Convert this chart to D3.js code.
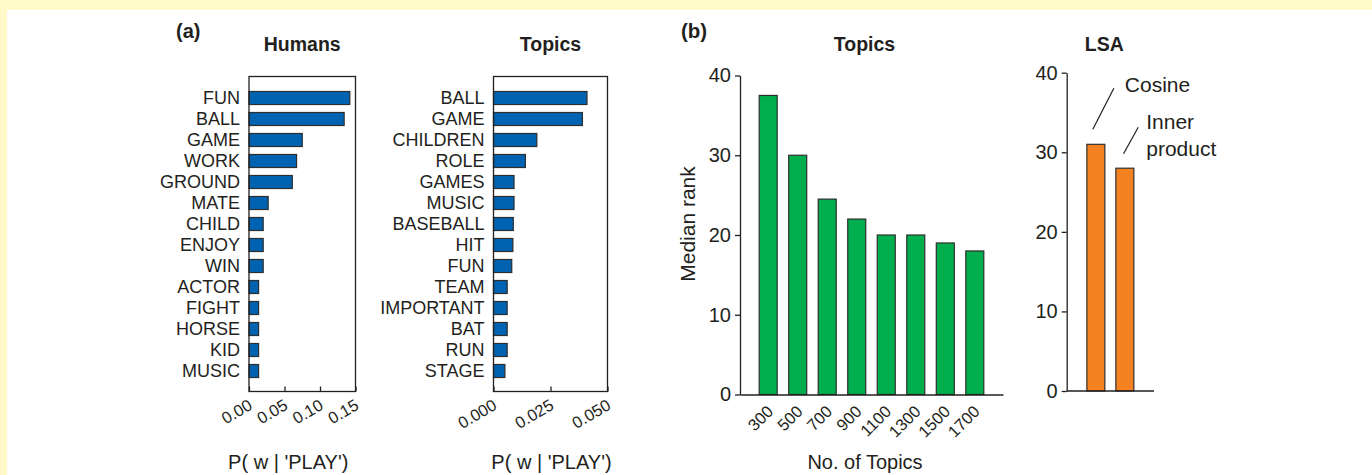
<!DOCTYPE html>
<html>
<head>
  <script src="https://d3js.org/d3.v7.min.js"></script>
  <style>
    body { margin: 0; background: #fffac8; }
    svg text { font-family: "Liberation Sans", Arial, sans-serif; fill: #231f20; }
  </style>
</head>
<body>
  <div id="chart"></div>
  <script>
    // panel (a) - humans
    var humanWords = ["FUN", "BALL", "GAME", "WORK", "GROUND", "MATE", "CHILD", "ENJOY", "WIN", "ACTOR", "FIGHT", "HORSE", "KID", "MUSIC"];
    var humanValues = [0.142, 0.134, 0.075, 0.067, 0.061, 0.027, 0.020, 0.020, 0.020, 0.0135, 0.0135, 0.0135, 0.0135, 0.0135];
    var humanTicks = [0, 0.05, 0.10, 0.15];

    // panel (a) - topics
    var topicWords = ["BALL", "GAME", "CHILDREN", "ROLE", "GAMES", "MUSIC", "BASEBALL", "HIT", "FUN", "TEAM", "IMPORTANT", "BAT", "RUN", "STAGE"];
    var topicValues = [0.041, 0.039, 0.019, 0.014, 0.009, 0.009, 0.0087, 0.0085, 0.008, 0.006, 0.006, 0.006, 0.006, 0.005];
    var topicTicks = [0, 0.025, 0.05];

    // panel (b)
    var topicCounts = ["300", "500", "700", "900", "1100", "1300", "1500", "1700"];
    var medianRanks = [37.5, 30, 24.5, 22, 20, 20, 19, 18];
    var lsaMethods = ["Cosine", "Inner product"];
    var lsaRanks = [31, 28];
    var rankTicks = [0, 10, 20, 30, 40];

    var ink = "#231f20";
    var barStroke = "#2e2e2e";

    var svg = d3.select("#chart")
                .append("svg")
                .attr("width", 1372)
                .attr("height", 475);

    svg.append("rect")
       .attr("x", 7).attr("y", 10)
       .attr("width", 1365).attr("height", 465)
       .attr("fill", "white");

    var boxTop = 76.5, boxBottom = 391.5;

    function drawHPanel(words, values, ticks, fmt, x0, x1, title, labelShift) {
      var x = d3.scaleLinear()
                .domain([ticks[0], ticks[ticks.length - 1]])
                .range([x0, x1]);
      var y = d3.scaleBand()
                .domain(words)
                .range([87.5, 381.5])
                .paddingInner(0.38)
                .paddingOuter(0.19);

      var g = svg.append("g");

      g.selectAll(".bar")
       .data(words)
       .enter()
       .append("rect")
       .attr("class", "bar")
       .attr("x", x(0))
       .attr("y", d => y(d))
       .attr("width", (d, i) => x(values[i]) - x(0))
       .attr("height", y.bandwidth())
       .attr("fill", "#0063b1")
       .attr("stroke", barStroke)
       .attr("stroke-width", 1.2);

      g.append("rect")
       .attr("x", x0).attr("y", boxTop)
       .attr("width", x1 - x0).attr("height", boxBottom - boxTop)
       .attr("fill", "none")
       .attr("stroke", ink)
       .attr("stroke-width", 1.3);

      g.selectAll(".word")
       .data(words)
       .enter()
       .append("text")
       .attr("class", "word")
       .attr("x", x0 - 9)
       .attr("y", d => y(d) + y.bandwidth() / 2)
       .attr("dy", "0.36em")
       .attr("text-anchor", "end")
       .style("font-size", "18px")
       .text(d => d);

      var axis = g.append("g")
                  .attr("transform", `translate(0, ${boxBottom})`)
                  .style("color", ink)
                  .call(d3.axisBottom(x).tickValues(ticks).tickSize(-5).tickSizeOuter(0).tickFormat(fmt));
      axis.select(".domain").remove();
      axis.selectAll("line").attr("stroke-width", 1.3);
      axis.selectAll("text")
          .attr("y", 0)
          .attr("dy", 0)
          .attr("text-anchor", "end")
          .attr("transform", "translate(4, 17) rotate(-30)")
          .style("font-size", "16.5px");

      svg.append("text")
         .attr("x", (x0 + x1) / 2)
         .attr("y", 51)
         .attr("text-anchor", "middle")
         .style("font-size", "19.5px")
         .style("font-weight", "bold")
         .text(title);

      svg.append("text")
         .attr("x", (x0 + x1) / 2 + labelShift)
         .attr("y", 469)
         .attr("text-anchor", "middle")
         .style("font-size", "20px")
         .text("P( w | 'PLAY')");
    }

    drawHPanel(humanWords, humanValues, humanTicks, d3.format(".2f"), 249, 355.5, "Humans", -14);
    drawHPanel(topicWords, topicValues, topicTicks, d3.format(".3f"), 493.5, 607.5, "Topics", 1);

    svg.append("text").attr("x", 176).attr("y", 38)
       .style("font-size", "20px").style("font-weight", "bold").text("(a)");
    svg.append("text").attr("x", 681).attr("y", 38)
       .style("font-size", "20.5px").style("font-weight", "bold").text("(b)");

    // panel (b) - topics median rank
    var xb = d3.scaleBand()
               .domain(topicCounts)
               .range([740, 1003])
               .paddingInner(0.39)
               .paddingOuter(0.65);
    var yb = d3.scaleLinear().domain([0, 40]).range([394.5, 75.5]);

    svg.selectAll(".gbar")
       .data(topicCounts)
       .enter()
       .append("rect")
       .attr("class", "gbar")
       .attr("x", d => xb(d))
       .attr("y", (d, i) => yb(medianRanks[i]))
       .attr("width", xb.bandwidth())
       .attr("height", (d, i) => yb(0) - yb(medianRanks[i]))
       .attr("fill", "#00ae4d")
       .attr("stroke", barStroke)
       .attr("stroke-width", 1.2);

    var ybAxis = svg.append("g")
                    .attr("transform", "translate(740, 0)")
                    .style("color", ink)
                    .call(d3.axisLeft(yb).tickValues(rankTicks).tickSize(5).tickSizeOuter(0).tickPadding(4));
    ybAxis.selectAll("path, line").attr("stroke-width", 1.3);
    ybAxis.selectAll("text").style("font-size", "20px");

    var xbAxis = svg.append("g")
                    .attr("transform", `translate(0, ${yb(0)})`)
                    .style("color", ink)
                    .call(d3.axisBottom(xb).tickSize(0).tickSizeOuter(0));
    xbAxis.select(".domain").attr("stroke-width", 1.3);
    xbAxis.selectAll("text")
          .attr("y", 0)
          .attr("dy", 0)
          .attr("text-anchor", "end")
          .attr("transform", "translate(6, 18) rotate(-45)")
          .style("font-size", "16.5px");

    svg.append("text")
       .attr("x", (740 + 1003) / 2 - 7)
       .attr("y", 51)
       .attr("text-anchor", "middle")
       .style("font-size", "19.5px")
       .style("font-weight", "bold")
       .text("Topics");

    svg.append("text")
       .attr("x", 865)
       .attr("y", 469)
       .attr("text-anchor", "middle")
       .style("font-size", "20px")
       .text("No. of Topics");

    svg.append("text")
       .attr("transform", "translate(695, 224) rotate(-90)")
       .attr("text-anchor", "middle")
       .style("font-size", "21px")
       .text("Median rank");

    // panel (b) - LSA
    var xl = d3.scaleBand()
               .domain(lsaMethods)
               .range([1066.7, 1154])
               .paddingInner(0.38)
               .paddingOuter(0.695);
    var yl = d3.scaleLinear().domain([0, 40]).range([391, 72.7]);

    svg.selectAll(".obar")
       .data(lsaMethods)
       .enter()
       .append("rect")
       .attr("class", "obar")
       .attr("x", d => xl(d))
       .attr("y", (d, i) => yl(lsaRanks[i]))
       .attr("width", xl.bandwidth())
       .attr("height", (d, i) => yl(0) - yl(lsaRanks[i]))
       .attr("fill", "#f58220")
       .attr("stroke", barStroke)
       .attr("stroke-width", 1.2);

    var ylAxis = svg.append("g")
                    .attr("transform", "translate(1066.7, 0)")
                    .style("color", ink)
                    .call(d3.axisLeft(yl).tickValues(rankTicks).tickSize(5).tickSizeOuter(0).tickPadding(4));
    ylAxis.selectAll("path, line").attr("stroke-width", 1.3);
    ylAxis.selectAll("text").style("font-size", "20px");

    svg.append("line")
       .attr("x1", 1066.7).attr("x2", 1154)
       .attr("y1", yl(0)).attr("y2", yl(0))
       .attr("stroke", ink)
       .attr("stroke-width", 1.3);

    svg.append("text")
       .attr("x", (1066.7 + 1154) / 2 - 6)
       .attr("y", 51)
       .attr("text-anchor", "middle")
       .style("font-size", "19.5px")
       .style("font-weight", "bold")
       .text("LSA");

    // leader lines and labels for the LSA bars
    var cx = xl("Cosine") + xl.bandwidth() / 2 - 3, cy = yl(lsaRanks[0]) - 15;
    svg.append("line")
       .attr("x1", cx).attr("y1", cy)
       .attr("x2", cx + 21).attr("y2", cy - 41)
       .attr("stroke", ink).attr("stroke-width", 1.2);
    svg.append("text")
       .attr("x", cx + 32).attr("y", cy - 37.5)
       .style("font-size", "21px")
       .text("Cosine");

    var ix = xl("Inner product") + xl.bandwidth() / 2 - 1.3, iy = yl(lsaRanks[1]) - 14.4;
    svg.append("line")
       .attr("x1", ix).attr("y1", iy)
       .attr("x2", ix + 14.7).attr("y2", iy - 26.6)
       .attr("stroke", ink).attr("stroke-width", 1.2);
    var inner = svg.append("text")
                   .attr("x", ix + 22.7).attr("y", iy - 25)
                   .style("font-size", "21px");
    inner.append("tspan").attr("x", ix + 22.7).text("Inner");
    inner.append("tspan").attr("x", ix + 22.7).attr("dy", 27).text("product");
  </script>
</body>
</html>
